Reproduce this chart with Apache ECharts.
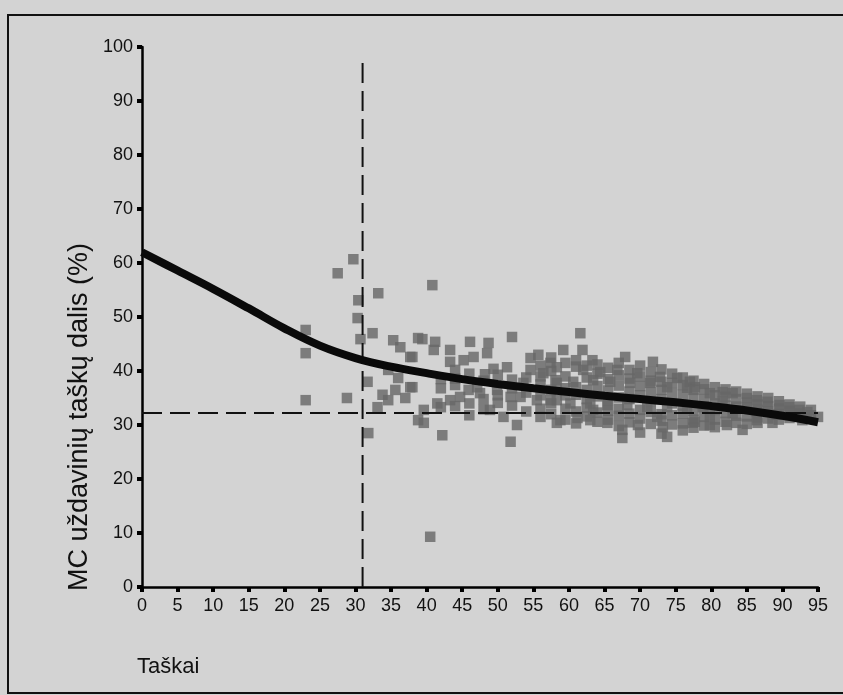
<!DOCTYPE html>
<html><head><meta charset="utf-8">
<style>html,body{margin:0;padding:0;background:#d3d3d3;}#c{width:843px;height:695px;}</style>
<script src="https://cdn.jsdelivr.net/npm/echarts@6/dist/echarts.min.js"></script>
</head><body><div id="c"></div>
<script>
const xTicks = [0,5,10,15,20,25,30,35,40,45,50,55,60,65,70,75,80,85,90,95];
const yTicks = [0,10,20,30,40,50,60,70,80,90,100];
const curveX = [0,5,10,15,20,25,30,35,40,45,50,55,60,65,70,75,80,85,90,95];
const curveY = [62,58.6,55.2,51.6,47.9,44.7,42.4,40.8,39.6,38.5,37.6,36.8,36.1,35.4,34.8,34.2,33.5,32.7,31.7,30.5];
const cutoffX = 31;
const cutoffXTop = 98.5;
const cutoffY = 32.2;
const pointsX = [29.7,27.5,30.4,30.3,30.7,32.4,33.2,23,23,23,28.8,31.7,31.8,35.3,36.3,37.7,38.8,34.6,36,37.7,35.6,33.8,34.6,37,33.1,38.8,40.5,40.8,
39.4,41.2,41,43.3,43.3,45.2,46.6,46.1,48.7,48.5,52,51.3,49.4,48.2,44,38,38,39.6,41.5,39.6,42.2,43.3,44.7,45.9,47.5,48.9,50.8,51.8,52.7,51.8,53.2,54.6,55.7,54.6,56.4,57.4,58.1,55.5,57.4,58.3,49.9,47.1,53.6,
61.6,59.2,61.9,67.9,71.8,63.3,58.3,62,64.4,66.8,69.6,72.8,75.2,77,58.3,60.6,63.4,65.8,68.6,71.4,73.8,76.6,58.3,60.2,63,65.4,68.2,71,73.8,76.6,58.8,61.2,65.4,67.5,67.5,69.7,73.2,73.8,77.4,63,63.4,72.4,
77.7,79.8,81.6,83,85,86.4,87.9,89.6,91,92.4,93.5,95,77.7,79.8,82.2,84.4,86.4,88.6,91,79.8,83,86.4,89.2,92.8,81.6,78.8];
const pointsY = [60.7,58.1,53.1,49.8,45.9,47,54.4,47.6,43.3,34.6,35,38,28.5,45.7,44.4,42.6,46.1,40.2,38.7,37,36.5,35.6,34.6,35,33.3,30.9,9.3,55.9,
45.9,45.4,43.9,43.9,41.7,42,42.6,45.4,45.2,43.3,46.3,40.7,40.4,39.4,40.2,42.6,37,32.8,34,30.4,28.1,34.6,35.2,36.5,35.9,32.8,31.5,35.2,30,26.9,35.2,42.4,43,40.2,39.6,41.5,38.3,34.6,34.6,30.4,36.5,37,37.8,
47,43.9,43.9,42.6,41.7,42,40.7,40.2,39.8,40.2,39.6,38.9,38.7,38,37.8,38,38.3,38,37.8,37.8,37,36.9,34.6,34,34,33.7,33.7,33.3,33.3,33.3,30.9,31.3,30.4,29.1,27.6,30,29.6,27.8,30.4,30.9,32.8,31.5,
37,35.9,36.1,35.9,35,34.6,34.3,33.7,33.3,32.8,32.4,31.5,30.6,30,30,29.1,30.9,30.4,31.3,31.9,32.2,32.4,31.9,30.9,34.3,33.3];
const bandX = [42,42,42,44,44,44,46,46,46,48,48,48,50,50,50,52,52,52,54,54,54,
56,56,56,56,56,56,57.5,57.5,57.5,57.5,57.5,59.5,59.5,59.5,59.5,59.5,59.5,61,61,61,61,61,61,62.5,62.5,62.5,62.5,62.5,62.5,
64,64,64,64,64,64,65.5,65.5,65.5,65.5,65.5,65.5,67,67,67,67,67,67,67,68.5,68.5,68.5,68.5,68.5,68.5,
70,70,70,70,70,70,70,71.5,71.5,71.5,71.5,71.5,71.5,73,73,73,73,73,73,73,74.5,74.5,74.5,74.5,74.5,74.5,
76,76,76,76,76,76,76,77.5,77.5,77.5,77.5,77.5,77.5,79,79,79,79,79,79,80.5,80.5,80.5,80.5,80.5,80.5,
82,82,82,82,82,83.5,83.5,83.5,83.5,83.5,85,85,85,85,85,86.5,86.5,86.5,86.5,86.5,88,88,88,88,89.5,89.5,89.5,89.5,91,91,91,92.5,92.5,92.5,94,94];
const bandY = [38.5,36.8,33.3,38.6,37.4,33.5,39.5,34,31.8,38.2,34.8,32.9,39.3,35.5,34.1,38.4,36.8,33.6,38.8,36,32.5,
41,39,37.5,35.5,33,31.5,42.5,40,36.5,34,32,41.5,39,36.8,35.5,33,31,42,40.8,37,35.6,32.5,30.3,41,38.8,36.5,34.8,33.2,31.6,
41.2,39.5,37.2,35.3,32.3,30.6,40.6,38.5,36.4,34.5,32.6,31,41.5,39.2,37.3,35.1,33,31.7,29.8,40.2,38.6,36.2,34.8,32.1,30.5,
41,39,37.2,35.5,32.8,31.2,28.6,39.8,38.2,36.2,34.3,32.4,30.2,40.3,38,36.5,34.8,32,30.8,28.4,39.5,37.8,35.9,34,31.8,30.1,
38.8,37.4,35.6,33.6,32.1,30.3,29,38.2,36.5,35,32.6,31,29.5,37.6,36.6,34.8,33.4,31.5,29.9,37,35.5,34,32.8,31,29.6,
36.6,35.2,33.6,32.2,30.6,36.2,34.8,33.4,31.7,30.4,35.8,34.2,33.2,31.6,30.2,35.3,33.8,32.8,31.4,30.4,35,33.5,32.5,31.2,34.4,33,32,31,33.8,32.6,31.8,33.4,32.1,31.5,32.8,31.8];
const scatterData = pointsX.map((x,i)=>[x,pointsY[i]]).concat(bandX.map((x,i)=>[x,bandY[i]]));
const curveData = curveX.map((x,i)=>[x,curveY[i]]);
const chart = echarts.init(document.getElementById('c'));
const font = 'Liberation Sans, Arial, sans-serif';
chart.setOption({
  backgroundColor:'#d3d3d3',
  animation:false,
  grid:{left:142,right:25,top:47,bottom:108},
  xAxis:{type:'value',min:0,max:95,interval:5,
    axisLine:{lineStyle:{color:'#000',width:2.5}},
    axisTick:{show:true,length:5,lineStyle:{color:'#000',width:4}},
    axisLabel:{color:'#111',fontSize:18,fontFamily:font,margin:10,
      formatter:v=>xTicks.includes(v)?String(v):''},
    splitLine:{show:false}},
  yAxis:{type:'value',min:0,max:100,interval:10,
    axisLine:{show:true,lineStyle:{color:'#000',width:2.5}},
    axisTick:{show:true,length:5,lineStyle:{color:'#000',width:4}},
    axisLabel:{color:'#111',fontSize:18,fontFamily:font,margin:9,
      formatter:v=>yTicks.includes(v)?String(v):''},
    splitLine:{show:false}},
  series:[
    {type:'scatter',data:scatterData,symbol:'rect',symbolSize:10.5,
      itemStyle:{color:'#666666',opacity:0.8},z:2},
    {type:'line',data:[[cutoffX,0],[cutoffX,cutoffXTop]],symbol:'none',
      lineStyle:{color:'#111',width:2,type:[20,8]},z:3},
    {type:'line',data:[[0,cutoffY],[95,cutoffY]],symbol:'none',
      lineStyle:{color:'#111',width:2,type:[20,8]},z:3},
    {type:'line',data:curveData,smooth:0.4,symbol:'none',
      lineStyle:{color:'#0a0a0a',width:8},z:4}
  ],
  graphic:[
    {type:'rect',shape:{x:8,y:15,width:860,height:678},style:{fill:'none',stroke:'#111',lineWidth:2},z:-1},
    {type:'text',x:80,y:417,rotation:Math.PI/2,
      style:{text:'MC uždavinių taškų dalis (%)',fontSize:27,fontFamily:font,fill:'#111',align:'center',verticalAlign:'middle'}},
    {type:'text',x:137,y:667,
      style:{text:'Taškai',fontSize:22,fontFamily:font,fill:'#111',align:'left',verticalAlign:'middle'}}
  ]
});
</script></body></html>
